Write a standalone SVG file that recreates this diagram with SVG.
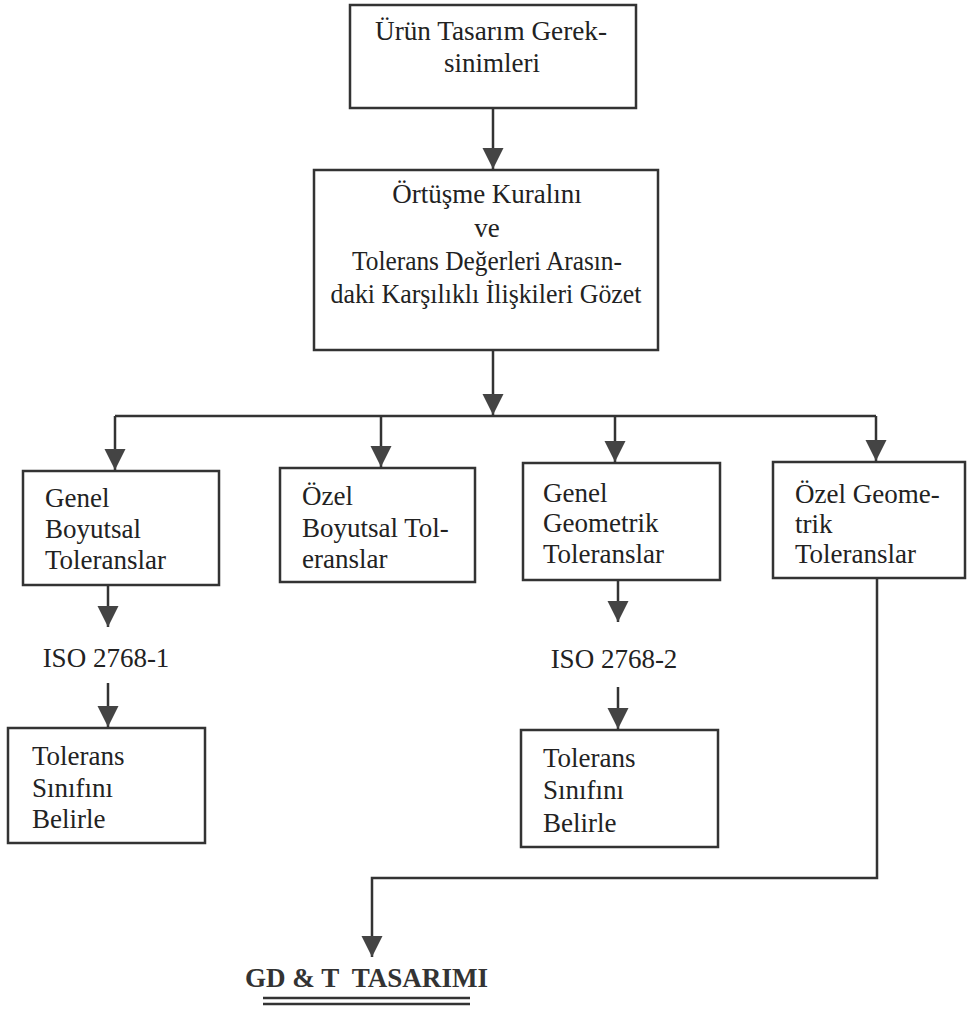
<svg xmlns="http://www.w3.org/2000/svg" width="970" height="1010" viewBox="0 0 970 1010">
<style>
.box{fill:#fff;stroke:#333;stroke-width:2.5}
.t{font-family:'Liberation Serif','DejaVu Serif',serif;font-size:27px;fill:#222}
.c{text-anchor:middle}
.ln{fill:none;stroke:#333;stroke-width:2.5}
.b{font-family:'Liberation Serif','DejaVu Serif',serif;font-size:27px;font-weight:bold;fill:#333}
</style>
<defs>
<marker id="ah" markerUnits="userSpaceOnUse" markerWidth="22" markerHeight="22" viewBox="0 0 22 22" refX="21" refY="11" orient="auto">
<path d="M0,0.5 L21,11 L0,21.5 Z" fill="#444"/>
</marker>
</defs>
<rect width="970" height="1010" fill="#fff"/>
<g id="connectors">
<line class="ln" x1="493" y1="108" x2="493" y2="169" marker-end="url(#ah)"/>
<line class="ln" x1="493" y1="350" x2="493" y2="415" marker-end="url(#ah)"/>
<line class="ln" x1="115" y1="416" x2="876" y2="416"/>
<line class="ln" x1="115" y1="416" x2="115" y2="470" marker-end="url(#ah)"/>
<line class="ln" x1="381" y1="416" x2="381" y2="467" marker-end="url(#ah)"/>
<line class="ln" x1="615" y1="416" x2="615" y2="462" marker-end="url(#ah)"/>
<line class="ln" x1="876" y1="416" x2="876" y2="461" marker-end="url(#ah)"/>
<line class="ln" x1="108" y1="585" x2="108" y2="627" marker-end="url(#ah)"/>
<line class="ln" x1="108" y1="683" x2="108" y2="727" marker-end="url(#ah)"/>
<line class="ln" x1="618" y1="580" x2="618" y2="622" marker-end="url(#ah)"/>
<line class="ln" x1="618" y1="687" x2="618" y2="729" marker-end="url(#ah)"/>
<path class="ln" d="M877,578 V878 H372 V957" marker-end="url(#ah)"/>
</g>
<g id="n1">
<rect class="box" x="350" y="5" width="286" height="103"/>
<text class="t c" x="491" y="40" textLength="232" lengthAdjust="spacingAndGlyphs">Ürün Tasarım Gerek-</text>
<text class="t c" x="492" y="72">sinimleri</text>
</g>
<g id="n2">
<rect class="box" x="314" y="170" width="344" height="180"/>
<text class="t c" x="487" y="203">Örtüşme Kuralını</text>
<text class="t c" x="487" y="237">ve</text>
<text class="t c" x="487" y="270" textLength="270" lengthAdjust="spacingAndGlyphs">Tolerans Değerleri Arasın-</text>
<text class="t c" x="486" y="303" textLength="311" lengthAdjust="spacingAndGlyphs">daki Karşılıklı İlişkileri Gözet</text>
</g>
<g id="n3">
<rect class="box" x="23" y="471" width="196" height="114"/>
<text class="t" x="45" y="507">Genel</text>
<text class="t" x="45" y="538">Boyutsal</text>
<text class="t" x="45" y="569">Toleranslar</text>
</g>
<g id="n4">
<rect class="box" x="280" y="468" width="195" height="114"/>
<text class="t" x="302" y="505">Özel</text>
<text class="t" x="302" y="537">Boyutsal Tol-</text>
<text class="t" x="302" y="568">eranslar</text>
</g>
<g id="n5">
<rect class="box" x="523" y="463" width="197" height="117"/>
<text class="t" x="543" y="502">Genel</text>
<text class="t" x="543" y="532">Geometrik</text>
<text class="t" x="543" y="563">Toleranslar</text>
</g>
<g id="n6">
<rect class="box" x="773" y="462" width="192" height="116"/>
<text class="t" x="795" y="503">Özel Geome-</text>
<text class="t" x="795" y="533">trik</text>
<text class="t" x="795" y="563">Toleranslar</text>
</g>
<g id="n7">
<text class="t c" x="106" y="667">ISO 2768-1</text>
</g>
<g id="n8">
<rect class="box" x="8" y="728" width="197" height="115"/>
<text class="t" x="32" y="765">Tolerans</text>
<text class="t" x="32" y="797">Sınıfını</text>
<text class="t" x="32" y="828">Belirle</text>
</g>
<g id="n9">
<text class="t c" x="614" y="668">ISO 2768-2</text>
</g>
<g id="n10">
<rect class="box" x="521" y="730" width="197" height="117"/>
<text class="t" x="543" y="767">Tolerans</text>
<text class="t" x="543" y="799">Sınıfını</text>
<text class="t" x="543" y="832">Belirle</text>
</g>
<g id="n11">
<text class="b" x="245" y="987" textLength="243" lengthAdjust="spacingAndGlyphs" xml:space="preserve">GD &amp; T  TASARIMI</text>
<line x1="263" y1="998" x2="470" y2="998" stroke="#333" stroke-width="2.5"/>
<line x1="263" y1="1004" x2="470" y2="1004" stroke="#333" stroke-width="2.5"/>
</g>
</svg>
